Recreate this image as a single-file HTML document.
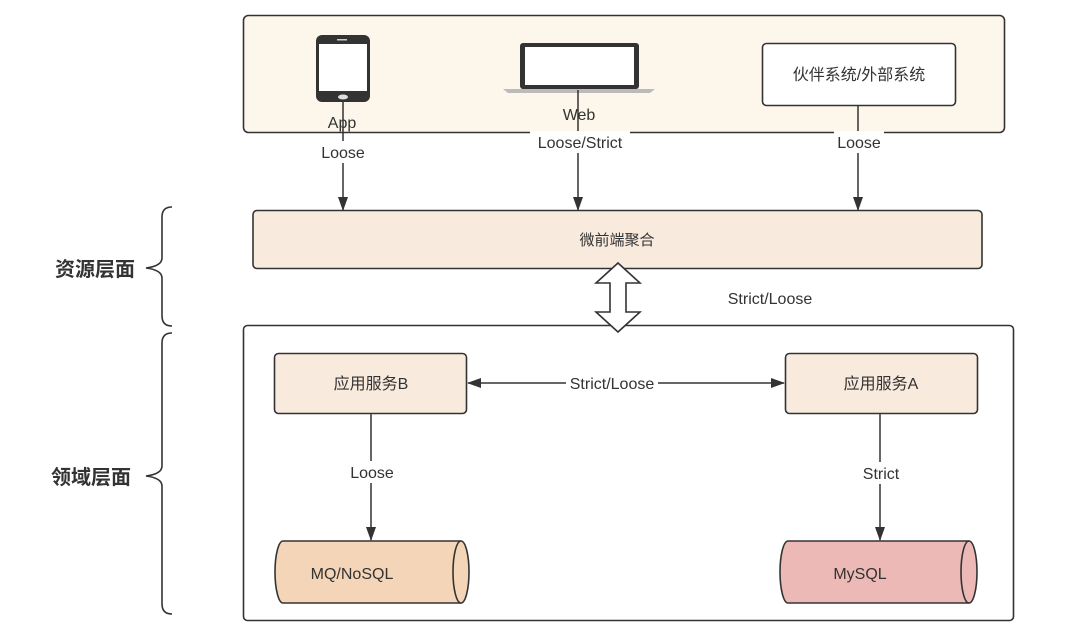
<!DOCTYPE html>
<html><head><meta charset="utf-8"><style>
html,body{margin:0;padding:0;background:#fff;}
svg{display:block;}
text{font-family:"Liberation Sans","Noto Sans CJK SC",sans-serif;fill:#333;}
</style></head><body>
<svg width="1080" height="639" viewBox="0 0 1080 639" xmlns="http://www.w3.org/2000/svg">
<defs>
<marker id="ah" markerWidth="10" markerHeight="14" refX="13" refY="5" orient="auto" markerUnits="userSpaceOnUse">
<path d="M0,0 L14,5 L0,10 z" fill="#333"/></marker>
<marker id="ah2" markerWidth="14" markerHeight="10" refX="13" refY="5" orient="auto-start-reverse" markerUnits="userSpaceOnUse">
<path d="M0,0 L14,5 L0,10 z" fill="#333"/></marker>
</defs>
<rect x="243.5" y="15.5" width="761" height="117" rx="5" fill="#fcf7ea" stroke="#333" stroke-width="1.6"/>
<rect x="316" y="35" width="54" height="67" rx="6" fill="#333"/>
<rect x="319" y="44" width="48" height="47" fill="#fff"/>
<rect x="337" y="39" width="10" height="1.5" fill="#ccc"/>
<ellipse cx="343" cy="97" rx="5" ry="2.5" fill="#ddd"/>
<rect x="520" y="43" width="119" height="46" rx="3" fill="#333"/>
<rect x="525" y="47" width="109" height="38" fill="#fff"/>
<path d="M503,89 L655,89 L650,93 L508,93 z" fill="#bbb"/>
<rect x="762.5" y="43.5" width="193" height="62" rx="4" fill="#fff" stroke="#333" stroke-width="1.6"/>
<text x="859" y="80" font-size="16" text-anchor="middle">伙伴系统/外部系统</text>
<line x1="343" y1="100" x2="343" y2="210" stroke="#333" stroke-width="1.5" marker-end="url(#ah2)"/>
<line x1="578" y1="90" x2="578" y2="210" stroke="#333" stroke-width="1.5" marker-end="url(#ah2)"/>
<line x1="858" y1="105" x2="858" y2="210" stroke="#333" stroke-width="1.5" marker-end="url(#ah2)"/>
<rect x="319" y="141" width="50" height="22" fill="#fff"/>
<rect x="530" y="131" width="100" height="22" fill="#fff"/>
<rect x="834" y="131" width="50" height="22" fill="#fff"/>
<text x="342" y="128" font-size="16" text-anchor="middle">App</text>
<text x="579" y="120" font-size="16" text-anchor="middle">Web</text>
<text x="343" y="158" font-size="16" text-anchor="middle">Loose</text>
<text x="580" y="148" font-size="16" text-anchor="middle">Loose/Strict</text>
<text x="859" y="148" font-size="16" text-anchor="middle">Loose</text>
<rect x="253" y="210.5" width="729" height="58" rx="4" fill="#f8eadd" stroke="#333" stroke-width="1.6"/>
<text x="617" y="245" font-size="15" text-anchor="middle">微前端聚合</text>
<rect x="243.5" y="325.5" width="770" height="295" rx="4" fill="#fff" stroke="#333" stroke-width="1.6"/>
<path d="M618,263 L640,283 L626,283 L626,312 L640,312 L618,332 L596,312 L610,312 L610,283 L596,283 z" fill="#fff" stroke="#333" stroke-width="1.6"/>
<text x="770" y="304" font-size="16" text-anchor="middle">Strict/Loose</text>
<rect x="274.5" y="353.5" width="192" height="60" rx="4" fill="#f8eadd" stroke="#333" stroke-width="1.6"/>
<text x="371" y="389" font-size="16" text-anchor="middle">应用服务B</text>
<rect x="785.5" y="353.5" width="192" height="60" rx="4" fill="#f8eadd" stroke="#333" stroke-width="1.6"/>
<text x="881" y="389" font-size="16" text-anchor="middle">应用服务A</text>
<line x1="468" y1="383" x2="784" y2="383" stroke="#333" stroke-width="1.5" marker-start="url(#ah2)" marker-end="url(#ah2)"/>
<rect x="566" y="372" width="92" height="22" fill="#fff"/>
<text x="612" y="389" font-size="16" text-anchor="middle">Strict/Loose</text>
<line x1="371" y1="414" x2="371" y2="540" stroke="#333" stroke-width="1.5" marker-end="url(#ah2)"/>
<line x1="880" y1="414" x2="880" y2="540" stroke="#333" stroke-width="1.5" marker-end="url(#ah2)"/>
<rect x="346" y="461" width="52" height="22" fill="#fff"/>
<rect x="857" y="462" width="48" height="22" fill="#fff"/>
<text x="372" y="478" font-size="16" text-anchor="middle">Loose</text>
<text x="881" y="479" font-size="16" text-anchor="middle">Strict</text>
<path d="M283,541 L461,541 A8,31 0 0 1 461,603 L283,603 A8,31 0 0 1 283,541 z" fill="#f4d5b8" stroke="#333" stroke-width="1.6"/>
<path d="M461,541 A8,31 0 0 0 461,603" fill="none" stroke="#333" stroke-width="1.6"/>
<text x="352" y="579" font-size="16" text-anchor="middle">MQ/NoSQL</text>
<path d="M788,541 L969,541 A8,31 0 0 1 969,603 L788,603 A8,31 0 0 1 788,541 z" fill="#ecb9b6" stroke="#333" stroke-width="1.6"/>
<path d="M969,541 A8,31 0 0 0 969,603" fill="none" stroke="#333" stroke-width="1.6"/>
<text x="860" y="579" font-size="16" text-anchor="middle">MySQL</text>
<path d="M172,207 Q162,207 162,217 L162,258 Q162,266 146,268 Q162,270 162,278 L162,316 Q162,326 172,326" fill="none" stroke="#333" stroke-width="1.6"/>
<path d="M172,333 Q162,333 162,343 L162,466 Q162,474 146,476 Q162,478 162,486 L162,604 Q162,614 172,614" fill="none" stroke="#333" stroke-width="1.6"/>
<text x="95" y="276" font-size="20" font-weight="bold" text-anchor="middle">资源层面</text>
<text x="91" y="484" font-size="20" font-weight="bold" text-anchor="middle">领域层面</text>
</svg>
</body></html>
